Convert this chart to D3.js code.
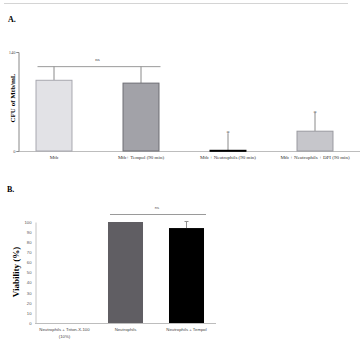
<!DOCTYPE html>
<html>
<head>
<meta charset="utf-8">
<script src="https://cdn.jsdelivr.net/npm/d3@7"></script>
<style>
  body { margin: 0; background: #fff; }
  svg { display: block; }
</style>
</head>
<body>
<div id="chart"></div>
<script>
// Panel A data
const catsA = ["Mtb", "Mtb+ Tempol (90 min)", "Mtb + Neutrophils (90 min)", "Mtb + Neutrophils + DPI (90 min)"];
const valsA = [100, 96, 1, 28];
const errA = [20, 24, 24, 26];
const fillsA = ["#e2e2e6", "#a2a2a8", "#000000", "#c6c6cb"];
const strokesA = ["#a8a8b0", "#6e6e74", "#000000", "#9a9aa0"];
const ticksA = [0, 140];

// Panel B data
const catsB = [["Neutrophils + Triton-X-100", "(10%)"], ["Neutrophils"], ["Neutrophils + Tempol"]];
const valsB = [0, 100, 94];
const errB = [0, 0, 7];
const fillsB = ["#ffffff", "#605e63", "#000000"];
const ticksB = d3.range(0, 101, 10);

const W = 363, H = 349;
const svg = d3.select("#chart").append("svg").attr("width", W).attr("height", H);

// thin rule at the top
svg.append("line").attr("x1", 4).attr("x2", 348).attr("y1", 3.5).attr("y2", 3.5)
  .attr("stroke", "#d4d4d4").attr("stroke-width", 1);

const serif = "Liberation Serif";
const sans = "Liberation Sans";

// ---------- Panel A ----------
svg.append("text").attr("x", 8).attr("y", 22)
  .attr("font-family", serif).attr("font-weight", "bold").attr("font-size", 8)
  .text("A.");

const xA = d3.scaleBand().domain(catsA).range([10.5, 358.5])
  .paddingInner(0.575).paddingOuter(0.2875);
const yA = d3.scaleLinear().domain([0, 140]).range([151, 52]);

// baseline
svg.append("line").attr("x1", 18).attr("x2", 360).attr("y1", yA(0) + 0.5).attr("y2", yA(0) + 0.5)
  .attr("stroke", "#bdbdbd");

const gA = svg.append("g").attr("transform", "translate(18.5,0)")
  .call(d3.axisLeft(yA).tickValues(ticksA).tickSize(2).tickPadding(1));
gA.select(".domain").attr("stroke", "#888");
gA.selectAll(".tick line").attr("stroke", "#888");
gA.selectAll("text").attr("font-family", serif).attr("font-size", 4.5).attr("fill", "#555");

svg.append("text")
  .attr("transform", `translate(15,${98}) rotate(-90)`)
  .attr("text-anchor", "middle")
  .attr("font-family", serif).attr("font-weight", "bold").attr("font-size", 7)
  .text("CFU of Mtb/mL");

// error bars (vertical only)
svg.selectAll(".errA").data(catsA).enter().append("line")
  .attr("x1", d => xA(d) + xA.bandwidth() / 2)
  .attr("x2", d => xA(d) + xA.bandwidth() / 2)
  .attr("y1", (d, i) => yA(valsA[i]))
  .attr("y2", (d, i) => yA(valsA[i] + errA[i]))
  .attr("stroke", "#8a8a8a").attr("stroke-width", 1);

svg.selectAll(".barA").data(catsA).enter().append("rect")
  .attr("x", d => xA(d) + 0.5)
  .attr("y", (d, i) => yA(valsA[i]))
  .attr("width", xA.bandwidth() - 1)
  .attr("height", (d, i) => Math.max(1, yA(0) - yA(valsA[i])))
  .attr("fill", (d, i) => fillsA[i])
  .attr("stroke", (d, i) => strokesA[i]).attr("stroke-width", 1);

svg.selectAll(".labA").data(catsA).enter().append("text")
  .attr("x", d => xA(d) + xA.bandwidth() / 2)
  .attr("y", 159)
  .attr("text-anchor", "middle")
  .attr("font-family", serif).attr("font-size", 5).attr("fill", "#333")
  .text(d => d);

// significance
svg.append("line").attr("x1", xA(catsA[0]) + 2).attr("x2", xA(catsA[1]) + xA.bandwidth() + 1)
  .attr("y1", yA(120) + 0.5).attr("y2", yA(120) + 0.5)
  .attr("stroke", "#9a9a9a").attr("stroke-width", 1);
svg.append("text")
  .attr("x", (xA(catsA[0]) + xA(catsA[1]) + xA.bandwidth()) / 2).attr("y", yA(120) - 5)
  .attr("text-anchor", "middle").attr("font-family", serif).attr("font-size", 5).attr("fill", "#444")
  .text("ns");
[2, 3].forEach(i => {
  svg.append("text")
    .attr("x", xA(catsA[i]) + xA.bandwidth() / 2)
    .attr("y", yA(valsA[i] + errA[i]) + 2)
    .attr("text-anchor", "middle").attr("font-family", serif).attr("font-size", 7).attr("fill", "#555")
    .text("*");
});

// ---------- Panel B ----------
svg.append("text").attr("x", 7).attr("y", 192)
  .attr("font-family", serif).attr("font-weight", "bold").attr("font-size", 8)
  .text("B.");

const xB = d3.scaleBand().domain(catsB.map(d => d.join(" "))).range([34, 217])
  .paddingInner(0.426).paddingOuter(0.213);
const yB = d3.scaleLinear().domain([0, 100]).range([323, 222]);

svg.append("line").attr("x1", 35).attr("x2", 216).attr("y1", yB(0) + 0.5).attr("y2", yB(0) + 0.5)
  .attr("stroke", "#bdbdbd");

const gB = svg.append("g").attr("transform", "translate(35.5,0)")
  .call(d3.axisLeft(yB).tickValues(ticksB).tickSize(0).tickPadding(4));
gB.select(".domain").attr("stroke", "#c4c4c4");
gB.selectAll("text").attr("font-family", sans).attr("font-size", 4.2).attr("fill", "#555");

svg.append("text")
  .attr("transform", `translate(19,${272}) rotate(-90)`)
  .attr("text-anchor", "middle")
  .attr("font-family", serif).attr("font-weight", "bold").attr("font-size", 9)
  .text("Viability (%)");

svg.selectAll(".barB").data(catsB).enter().append("rect")
  .attr("x", d => xB(d.join(" ")))
  .attr("y", (d, i) => yB(valsB[i]))
  .attr("width", xB.bandwidth())
  .attr("height", (d, i) => yB(0) - yB(valsB[i]))
  .attr("fill", (d, i) => fillsB[i]);

// error bar with cap
catsB.forEach((d, i) => {
  if (!errB[i]) return;
  const cx = xB(d.join(" ")) + xB.bandwidth() / 2;
  svg.append("line").attr("x1", cx).attr("x2", cx)
    .attr("y1", yB(valsB[i])).attr("y2", yB(valsB[i] + errB[i]))
    .attr("stroke", "#909090");
  svg.append("line").attr("x1", cx - 2).attr("x2", cx + 2)
    .attr("y1", yB(valsB[i] + errB[i]) + 0.5).attr("y2", yB(valsB[i] + errB[i]) + 0.5)
    .attr("stroke", "#909090");
});

const labB = svg.selectAll(".labB").data(catsB).enter().append("text")
  .attr("text-anchor", "middle")
  .attr("font-family", sans).attr("font-size", 4.3).attr("fill", "#444");
labB.each(function(d) {
  const t = d3.select(this);
  const cx = xB(d.join(" ")) + xB.bandwidth() / 2;
  d.forEach((line, k) => {
    t.append("tspan").attr("x", cx).attr("y", 331 + k * 6.5).text(line);
  });
});

svg.append("line").attr("x1", xB(catsB[1].join(" ")) + 2).attr("x2", 206)
  .attr("y1", 214.5).attr("y2", 214.5)
  .attr("stroke", "#9a9a9a");
svg.append("text").attr("x", 157).attr("y", 209)
  .attr("text-anchor", "middle").attr("font-family", sans).attr("font-size", 4.3).attr("fill", "#555")
  .text("ns");
</script>
</body>
</html>
